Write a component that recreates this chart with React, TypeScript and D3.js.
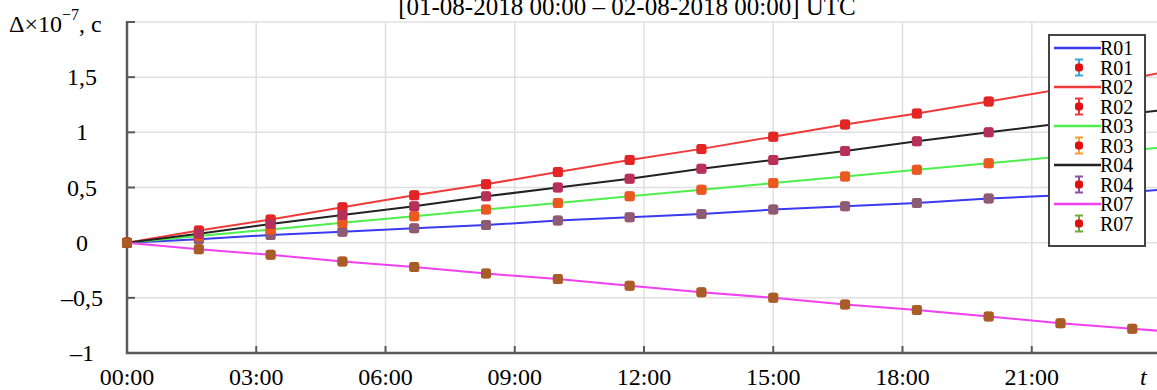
import React from 'react';
import * as d3 from 'd3';

// hours from 00:00, one measurement every 100 min
const pointHours = [0, 1.667, 3.333, 5, 6.667, 8.333, 10, 11.667, 13.333, 15, 16.667, 18.333, 20, 21.667, 23.333];
const fitEndHour = 24;

const stations = ['R01', 'R02', 'R03', 'R04', 'R07'];

const r01 = [0, 0.03, 0.07, 0.10, 0.13, 0.16, 0.20, 0.23, 0.26, 0.30, 0.33, 0.36, 0.40, 0.43, 0.46];
const r02 = [0, 0.11, 0.21, 0.32, 0.43, 0.53, 0.64, 0.75, 0.85, 0.96, 1.07, 1.17, 1.28, 1.39, 1.49];
const r03 = [0, 0.06, 0.12, 0.18, 0.24, 0.30, 0.36, 0.42, 0.48, 0.54, 0.60, 0.66, 0.72, 0.78, 0.84];
const r04 = [0, 0.08, 0.17, 0.25, 0.33, 0.42, 0.50, 0.58, 0.67, 0.75, 0.83, 0.92, 1.00, 1.08, 1.17];
const r07 = [0, -0.06, -0.11, -0.17, -0.22, -0.28, -0.33, -0.39, -0.45, -0.50, -0.56, -0.61, -0.67, -0.73, -0.78];
const seriesValues = [r01, r02, r03, r04, r07];
// fitted line value at 24:00
const fitEnd = [0.48, 1.54, 0.86, 1.20, -0.80];

const lineColors = ['#3a3af0', '#f03a3a', '#4cef4c', '#222222', '#f040f0'];
const errColors = ['#3aa6d8', '#e83a3a', '#f5a030', '#8e4fa4', '#6fa83c'];

const xTickHours = [0, 3, 6, 9, 12, 15, 18, 21];
const xTickLabels = ['00:00', '03:00', '06:00', '09:00', '12:00', '15:00', '18:00', '21:00'];
const yTicks = [-1, -0.5, 0, 0.5, 1, 1.5];
const yTickLabels = ['–1', '–0,5', '0', '0,5', '1', '1,5'];

const title = '[01-08-2018 00:00 – 02-08-2018 00:00] UTC';

const W = 1157;
const H = 390;
const font = '"Liberation Serif", "Times New Roman", serif';

export default function App() {
  const x = d3.scaleLinear().domain([0, 24]).range([127, 1161]);
  const y = d3.scaleLinear().domain([-1, 2]).range([353, 22]);
  const line = d3.line<[number, number]>().x(d => x(d[0])).y(d => y(d[1]));

  const axisColor = '#5a5a5a';
  const gridColor = '#e0e0e0';
  const xGrid = d3.range(3, 25, 3);
  const yGrid = d3.range(-0.5, 2.01, 0.5);

  const legendX = 1049;
  const legendY = 35;
  const rowH = 19.5;

  return (
    <svg width={W} height={H} style={{ position: 'absolute', left: 0, top: 0, background: '#fff' }}>
      <text x={627} y={15} textAnchor="middle" fontFamily={font} fontSize={25}>{title}</text>

      {/* grid */}
      {xGrid.map(h => (
        <line key={'gx' + h} x1={x(h)} x2={x(h)} y1={y(2)} y2={y(-1)} stroke={gridColor} strokeWidth={1.5} />
      ))}
      {yGrid.map(v => (
        <line key={'gy' + v} x1={x(0)} x2={W} y1={y(v)} y2={y(v)} stroke={gridColor} strokeWidth={1.5} />
      ))}

      {/* axes */}
      <line x1={x(0)} x2={x(0)} y1={y(2) - 1} y2={y(-1) + 1} stroke={axisColor} strokeWidth={2.5} />
      <line x1={x(0) - 1} x2={W} y1={y(-1)} y2={y(-1)} stroke={axisColor} strokeWidth={2.5} />
      {[...yTicks, 2].map(v => (
        <line key={'yt' + v} x1={x(0)} x2={x(0) + 8} y1={y(v)} y2={y(v)} stroke={axisColor} strokeWidth={2} />
      ))}
      {xTickHours.map(h => (
        <line key={'xt' + h} x1={x(h)} x2={x(h)} y1={y(-1)} y2={y(-1) - 7} stroke={axisColor} strokeWidth={2} />
      ))}

      {yTicks.map((v, i) => (
        <text key={'yl' + v} x={82} y={y(v) + 8} textAnchor="middle" fontFamily={font} fontSize={24}>{yTickLabels[i]}</text>
      ))}
      {xTickHours.map((h, i) => (
        <text key={'xl' + h} x={x(h)} y={385} textAnchor="middle" fontFamily={font} fontSize={24}>{xTickLabels[i]}</text>
      ))}
      <text x={1140} y={385} fontFamily={font} fontStyle="italic" fontSize={24}>t</text>
      <text x={9} y={32} fontFamily={font} fontSize={24}>
        Δ×10<tspan dy={-12} fontSize={16}>−7</tspan><tspan dy={12}>, c</tspan>
      </text>

      {/* fitted lines */}
      {seriesValues.map((vals, s) => {
        const pts: [number, number][] = pointHours.map((h, i) => [h, vals[i]]);
        pts.push([fitEndHour, fitEnd[s]]);
        return <path key={'l' + s} d={line(pts) || ''} fill="none" stroke={lineColors[s]} strokeWidth={2} />;
      })}

      {/* measurements */}
      {seriesValues.map((vals, s) => (
        <g key={'m' + s}>
          {pointHours.map((h, i) => (
            <g key={i} transform={`translate(${x(h)},${y(vals[i])})`}>
              <rect x={-5} y={-5} width={10} height={10} rx={2.5} fill="#e01010" />
              <rect x={-5} y={-5} width={10} height={10} rx={2.5} fill={errColors[s]} opacity={0.5} />
            </g>
          ))}
        </g>
      ))}

      {/* legend */}
      <rect x={legendX} y={legendY} width={96} height={211} fill="#fff" stroke="#444" strokeWidth={2} />
      {stations.map((name, s) => {
        const yl = legendY + 13 + s * 2 * rowH;
        const ym = yl + rowH;
        return (
          <g key={'lg' + name}>
            <line x1={legendX + 5} x2={legendX + 52} y1={yl} y2={yl} stroke={lineColors[s]} strokeWidth={2.5} />
            <text x={legendX + 51} y={yl + 7} fontFamily={font} fontSize={20}>{name}</text>
            <line x1={legendX + 30} x2={legendX + 30} y1={ym - 8} y2={ym + 8} stroke={errColors[s]} strokeWidth={2} />
            <line x1={legendX + 26} x2={legendX + 34} y1={ym - 8} y2={ym - 8} stroke={errColors[s]} strokeWidth={2} />
            <line x1={legendX + 26} x2={legendX + 34} y1={ym + 8} y2={ym + 8} stroke={errColors[s]} strokeWidth={2} />
            <rect x={legendX + 26} y={ym - 4} width={8} height={8} rx={3} fill="#e01010" />
            <text x={legendX + 51} y={ym + 7} fontFamily={font} fontSize={20}>{name}</text>
          </g>
        );
      })}
    </svg>
  );
}
